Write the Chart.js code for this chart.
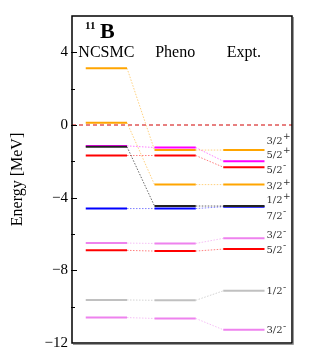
<!DOCTYPE html>
<html>
<head>
<meta charset="utf-8">
<script src="https://cdn.jsdelivr.net/npm/chart.js@4/dist/chart.umd.min.js"></script>
<style>
  html, body { margin: 0; padding: 0; background: #fff; }
  #wrap { width: 321px; height: 360px; }
</style>
</head>
<body>
<div id="wrap"><canvas id="levels"></canvas></div>
<script>
// columns of the level scheme
const columns = ['NCSMC', 'Pheno', 'Expt.'];
// J^pi of each level (same order in every column)
const states = ['3/2+', '3/2+', '5/2+', '7/2-', '1/2+', '5/2-', '3/2-', '5/2-', '1/2-', '3/2-'];
// energies in MeV
const ncsmc = [3.13, 0.13, -1.15, -1.2, -4.6, -1.68, -6.5, -6.9, -9.63, -10.6];
const pheno = [-1.38, -3.28, -1.24, -4.46, -4.6, -1.68, -6.52, -6.94, -9.65, -10.65];
const expt = [-1.38, -3.28, -1.99, -4.46, -4.5, -2.32, -6.24, -6.83, -9.13, -11.27];
const threshold = 0;
const yTicks = [4, 0, -4, -8, -12];

const colors = ['#ffa500', '#ffa500', '#ff00ff', '#222222', '#0000ff', '#ff0000', '#ee82ee', '#ff0000', '#c0c0c0', '#ee82ee'];
const faded = ['rgba(255,165,0,0.5)', 'rgba(255,165,0,0.5)', 'rgba(255,0,255,0.5)', 'rgba(0,0,0,0.6)', 'rgba(0,0,255,0.5)',
  'rgba(255,0,0,0.5)', 'rgba(238,130,238,0.5)', 'rgba(255,0,0,0.5)', 'rgba(170,170,170,0.5)', 'rgba(238,130,238,0.5)'];
const labelNudge = [-9, 2, -6, 10, -6, 3, -3, 1, 1, 1]; // px, keeps expt labels apart

const hw = 0.3; // half width of a level, in column units
const xMin = -0.5, xMax = 2.7;
const energies = [ncsmc, pheno, expt];

const datasets = [];
states.forEach((st, s) => {
  energies.forEach((col, i) => {
    datasets.push({
      data: [{ x: i - hw, y: col[s] }, { x: i + hw, y: col[s] }],
      borderColor: colors[s], borderWidth: 2, pointRadius: 0,
      order: st === '7/2-' ? -1 : 0
    });
    if (i < 2) {
      datasets.push({
        data: [{ x: i + hw, y: col[s] }, { x: i + 1 - hw, y: energies[i + 1][s] }],
        borderColor: faded[s], borderWidth: 1, borderDash: [1.5, 1.5], pointRadius: 0, order: 1
      });
    }
  });
});
datasets.push({
  data: [{ x: xMin, y: threshold }, { x: xMax, y: threshold }],
  borderColor: '#d00000', borderWidth: 1, borderDash: [4, 3], pointRadius: 0, order: 2
});

const decor = {
  id: 'decor',
  afterDraw(chart) {
    const { ctx, chartArea: a, scales: { x, y } } = chart;
    ctx.save();
    // frame
    ctx.strokeStyle = '#000';
    ctx.lineWidth = 1.5;
    ctx.strokeRect(a.left, a.top, a.right - a.left, a.bottom - a.top);
    ctx.strokeStyle = '#999';
    ctx.lineWidth = 1;
    ctx.beginPath();
    ctx.moveTo(a.right + 1.5, a.top + 1); ctx.lineTo(a.right + 1.5, a.bottom + 1.5);
    ctx.lineTo(a.left + 1, a.bottom + 1.5);
    ctx.stroke();
    // inner ticks
    ctx.strokeStyle = '#000';
    ctx.lineWidth = 1;
    for (let v = -10; v <= 4; v += 2) {
      const py = Math.round(y.getPixelForValue(v)) + 0.5;
      ctx.beginPath();
      ctx.moveTo(a.left - 1, py);
      ctx.lineTo(a.left + (yTicks.includes(v) ? 5 : 3), py);
      ctx.stroke();
    }
    // nucleus
    ctx.fillStyle = '#000';
    ctx.textBaseline = 'alphabetic';
    ctx.textAlign = 'left';
    ctx.font = 'bold 11px "Liberation Serif"';
    ctx.fillText('11', a.left + 13, a.top + 13);
    ctx.font = 'bold 22px "Liberation Serif"';
    ctx.fillText('B', a.left + 28, a.top + 22);
    // column headers
    ctx.font = '16px "Liberation Serif"';
    ctx.textAlign = 'center';
    ctx.textBaseline = 'middle';
    columns.forEach((c, i) => ctx.fillText(c, x.getPixelForValue(i), y.getPixelForValue(4)));
    // J^pi labels beside experiment
    const lx = x.getPixelForValue(2 + hw) + 2;
    ctx.fillStyle = '#333';
    ctx.textAlign = 'left';
    states.forEach((st, s) => {
      const py = y.getPixelForValue(expt[s]) + labelNudge[s];
      ctx.font = '10px "DejaVu Serif"';
      const base = st.slice(0, -1);
      ctx.fillText(base, lx, py);
      const w = ctx.measureText(base).width;
      ctx.font = '9px "DejaVu Sans"';
      ctx.fillText(st.slice(-1) === '+' ? '+' : '-', lx + w + 0.5, py - 4);
    });
    ctx.restore();
  }
};

Chart.defaults.font.family = '"Liberation Serif"';
Chart.defaults.color = '#000';

new Chart(document.getElementById('levels'), {
  type: 'line',
  data: { datasets },
  options: {
    responsive: true,
    maintainAspectRatio: false,
    animation: false,
    layout: { padding: { left: 0, top: 16, right: 29, bottom: 17 } },
    plugins: { legend: { display: false }, tooltip: { enabled: false } },
    scales: {
      x: { type: 'linear', min: xMin, max: xMax, display: false },
      y: {
        min: -12, max: 6,
        afterFit: s => { s.width = 72; },
        grid: { display: false, drawTicks: false },
        border: { display: false },
        ticks: {
          stepSize: 2, autoSkip: false, padding: 4,
          font: { size: 15 },
          callback: v => yTicks.includes(v) ? (v < 0 ? '\u2212' + Math.abs(v) : String(v)) : ''
        },
        title: { display: true, text: 'Energy [MeV]', font: { size: 16 }, padding: { top: 8 } }
      }
    }
  },
  plugins: [decor]
});
</script>
</body>
</html>
